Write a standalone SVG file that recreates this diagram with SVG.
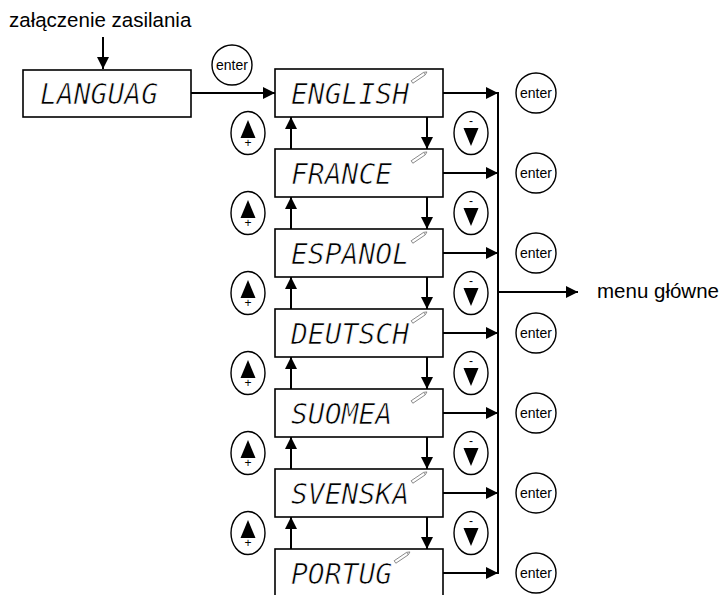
<svg xmlns="http://www.w3.org/2000/svg" width="725" height="595" viewBox="0 0 725 595">
<style>
.bg{fill:#fff}
.box{fill:#fff;stroke:#000;stroke-width:1.6}
.lcd{font-family:"DejaVu Sans Mono","Liberation Mono",monospace;font-style:oblique;font-size:28px;fill:#000;stroke:#fff;stroke-width:0.7}
.lbl{font-family:"Liberation Sans",Arial,sans-serif;font-size:20.5px;fill:#000}
.ent{font-family:"Liberation Sans",Arial,sans-serif;font-size:14px;fill:#000;text-anchor:middle}
.sm{font-family:"Liberation Sans",Arial,sans-serif;font-size:12px;fill:#000;text-anchor:middle}
.btn{fill:#fff;stroke:#000;stroke-width:1.4}
.ln{stroke:#000;stroke-width:2;fill:none}
.tri{fill:#000}
.pen{fill:#fff;stroke:#8a8a8a;stroke-width:0.9}
</style>
<defs>
<marker id="ah" markerUnits="userSpaceOnUse" viewBox="0 0 12 12" markerWidth="12" markerHeight="12" refX="12" refY="6" orient="auto">
<path d="M0,0 L12,6 L0,12 z" fill="#000"/>
</marker>
<g id="pencil">
<path class="pen" d="M0,-1.5 L15,-1.5 L18,0 L15,1.5 L0,1.5 z"/>
<line x1="15" y1="-1.5" x2="15" y2="1.5" stroke="#8a8a8a" stroke-width="0.8"/>
</g>
<g id="up">
<ellipse class="btn" cx="0" cy="0" rx="17" ry="21.5"/>
<path class="tri" d="M0,-13 L7.5,5 L-7.5,5 z"/>
<text class="sm" x="0" y="14">+</text>
</g>
<g id="down">
<ellipse class="btn" cx="0" cy="0" rx="17" ry="21.5"/>
<text class="sm" x="0" y="-8">-</text>
<path class="tri" d="M-7.5,-5 L7.5,-5 L0,13 z"/>
</g>
<g id="enter">
<circle class="btn" cx="0" cy="0" r="20"/>
<text class="ent" x="0" y="5">enter</text>
</g>
</defs>
<rect class="bg" x="0" y="0" width="725" height="595"/>

<g id="title"><text class="lbl" x="9" y="27">załączenie zasilania</text></g>
<g id="menu-glowne"><text class="lbl" x="597" y="298">menu główne</text></g>

<g id="n-language"><rect class="box" x="23" y="70" width="168" height="47"/><text class="lcd" x="40" y="104">LANGUAG</text></g>

<g id="n-english"><rect class="box" x="275" y="69" width="168" height="48"/><text class="lcd" x="291" y="104">ENGLISH</text><use href="#pencil" transform="translate(412,82) rotate(-34)"/></g>
<g id="n-france"><rect class="box" x="275" y="149" width="168" height="48"/><text class="lcd" x="291" y="184">FRANCE</text><use href="#pencil" transform="translate(412,162) rotate(-34)"/></g>
<g id="n-espanol"><rect class="box" x="275" y="229" width="168" height="48"/><text class="lcd" x="291" y="264">ESPANOL</text><use href="#pencil" transform="translate(412,242) rotate(-34)"/></g>
<g id="n-deutsch"><rect class="box" x="275" y="309" width="168" height="48"/><text class="lcd" x="291" y="344">DEUTSCH</text><use href="#pencil" transform="translate(412,322) rotate(-34)"/></g>
<g id="n-suomea"><rect class="box" x="275" y="389" width="168" height="48"/><text class="lcd" x="291" y="424">SUOMEA</text><use href="#pencil" transform="translate(412,402) rotate(-34)"/></g>
<g id="n-svenska"><rect class="box" x="275" y="469" width="168" height="48"/><text class="lcd" x="291" y="504">SVENSKA</text><use href="#pencil" transform="translate(412,482) rotate(-34)"/></g>
<g id="n-portug"><rect class="box" x="275" y="549" width="168" height="48"/><text class="lcd" x="291" y="584">PORTUG</text><use href="#pencil" transform="translate(395,562) rotate(-34)"/></g>

<g id="buttons-up">
<use href="#up" x="248" y="133"/><use href="#up" x="248" y="213"/><use href="#up" x="248" y="293"/>
<use href="#up" x="248" y="373"/><use href="#up" x="248" y="453"/><use href="#up" x="248" y="533"/>
</g>
<g id="buttons-down">
<use href="#down" x="471" y="133"/><use href="#down" x="471" y="213"/><use href="#down" x="471" y="293"/>
<use href="#down" x="471" y="373"/><use href="#down" x="471" y="453"/><use href="#down" x="471" y="533"/>
</g>
<g id="buttons-enter">
<use href="#enter" x="232" y="65"/>
<use href="#enter" x="536" y="93"/><use href="#enter" x="536" y="173"/><use href="#enter" x="536" y="253"/>
<use href="#enter" x="536" y="333"/><use href="#enter" x="536" y="413"/><use href="#enter" x="536" y="493"/>
<use href="#enter" x="536" y="573"/>
</g>

<g id="connectors">
<line class="ln" x1="103" y1="37" x2="103" y2="69" marker-end="url(#ah)"/>
<line class="ln" x1="191" y1="93" x2="275" y2="93" marker-end="url(#ah)"/>
<line class="ln" x1="498" y1="92" x2="498" y2="574" stroke-width="2.5"/>
<line class="ln" x1="498" y1="292" x2="578" y2="292" marker-end="url(#ah)"/>
<line class="ln" x1="443" y1="93" x2="498" y2="93" marker-end="url(#ah)"/>
<line class="ln" x1="443" y1="173" x2="498" y2="173" marker-end="url(#ah)"/>
<line class="ln" x1="443" y1="253" x2="498" y2="253" marker-end="url(#ah)"/>
<line class="ln" x1="443" y1="333" x2="498" y2="333" marker-end="url(#ah)"/>
<line class="ln" x1="443" y1="413" x2="498" y2="413" marker-end="url(#ah)"/>
<line class="ln" x1="443" y1="493" x2="498" y2="493" marker-end="url(#ah)"/>
<line class="ln" x1="443" y1="573" x2="498" y2="573" marker-end="url(#ah)"/>
<line class="ln" x1="427" y1="117" x2="427" y2="149" marker-end="url(#ah)"/>
<line class="ln" x1="427" y1="197" x2="427" y2="229" marker-end="url(#ah)"/>
<line class="ln" x1="427" y1="277" x2="427" y2="309" marker-end="url(#ah)"/>
<line class="ln" x1="427" y1="357" x2="427" y2="389" marker-end="url(#ah)"/>
<line class="ln" x1="427" y1="437" x2="427" y2="469" marker-end="url(#ah)"/>
<line class="ln" x1="427" y1="517" x2="427" y2="549" marker-end="url(#ah)"/>
<line class="ln" x1="291" y1="149" x2="291" y2="117" marker-end="url(#ah)"/>
<line class="ln" x1="291" y1="229" x2="291" y2="197" marker-end="url(#ah)"/>
<line class="ln" x1="291" y1="309" x2="291" y2="277" marker-end="url(#ah)"/>
<line class="ln" x1="291" y1="389" x2="291" y2="357" marker-end="url(#ah)"/>
<line class="ln" x1="291" y1="469" x2="291" y2="437" marker-end="url(#ah)"/>
<line class="ln" x1="291" y1="549" x2="291" y2="517" marker-end="url(#ah)"/>
</g>
</svg>
